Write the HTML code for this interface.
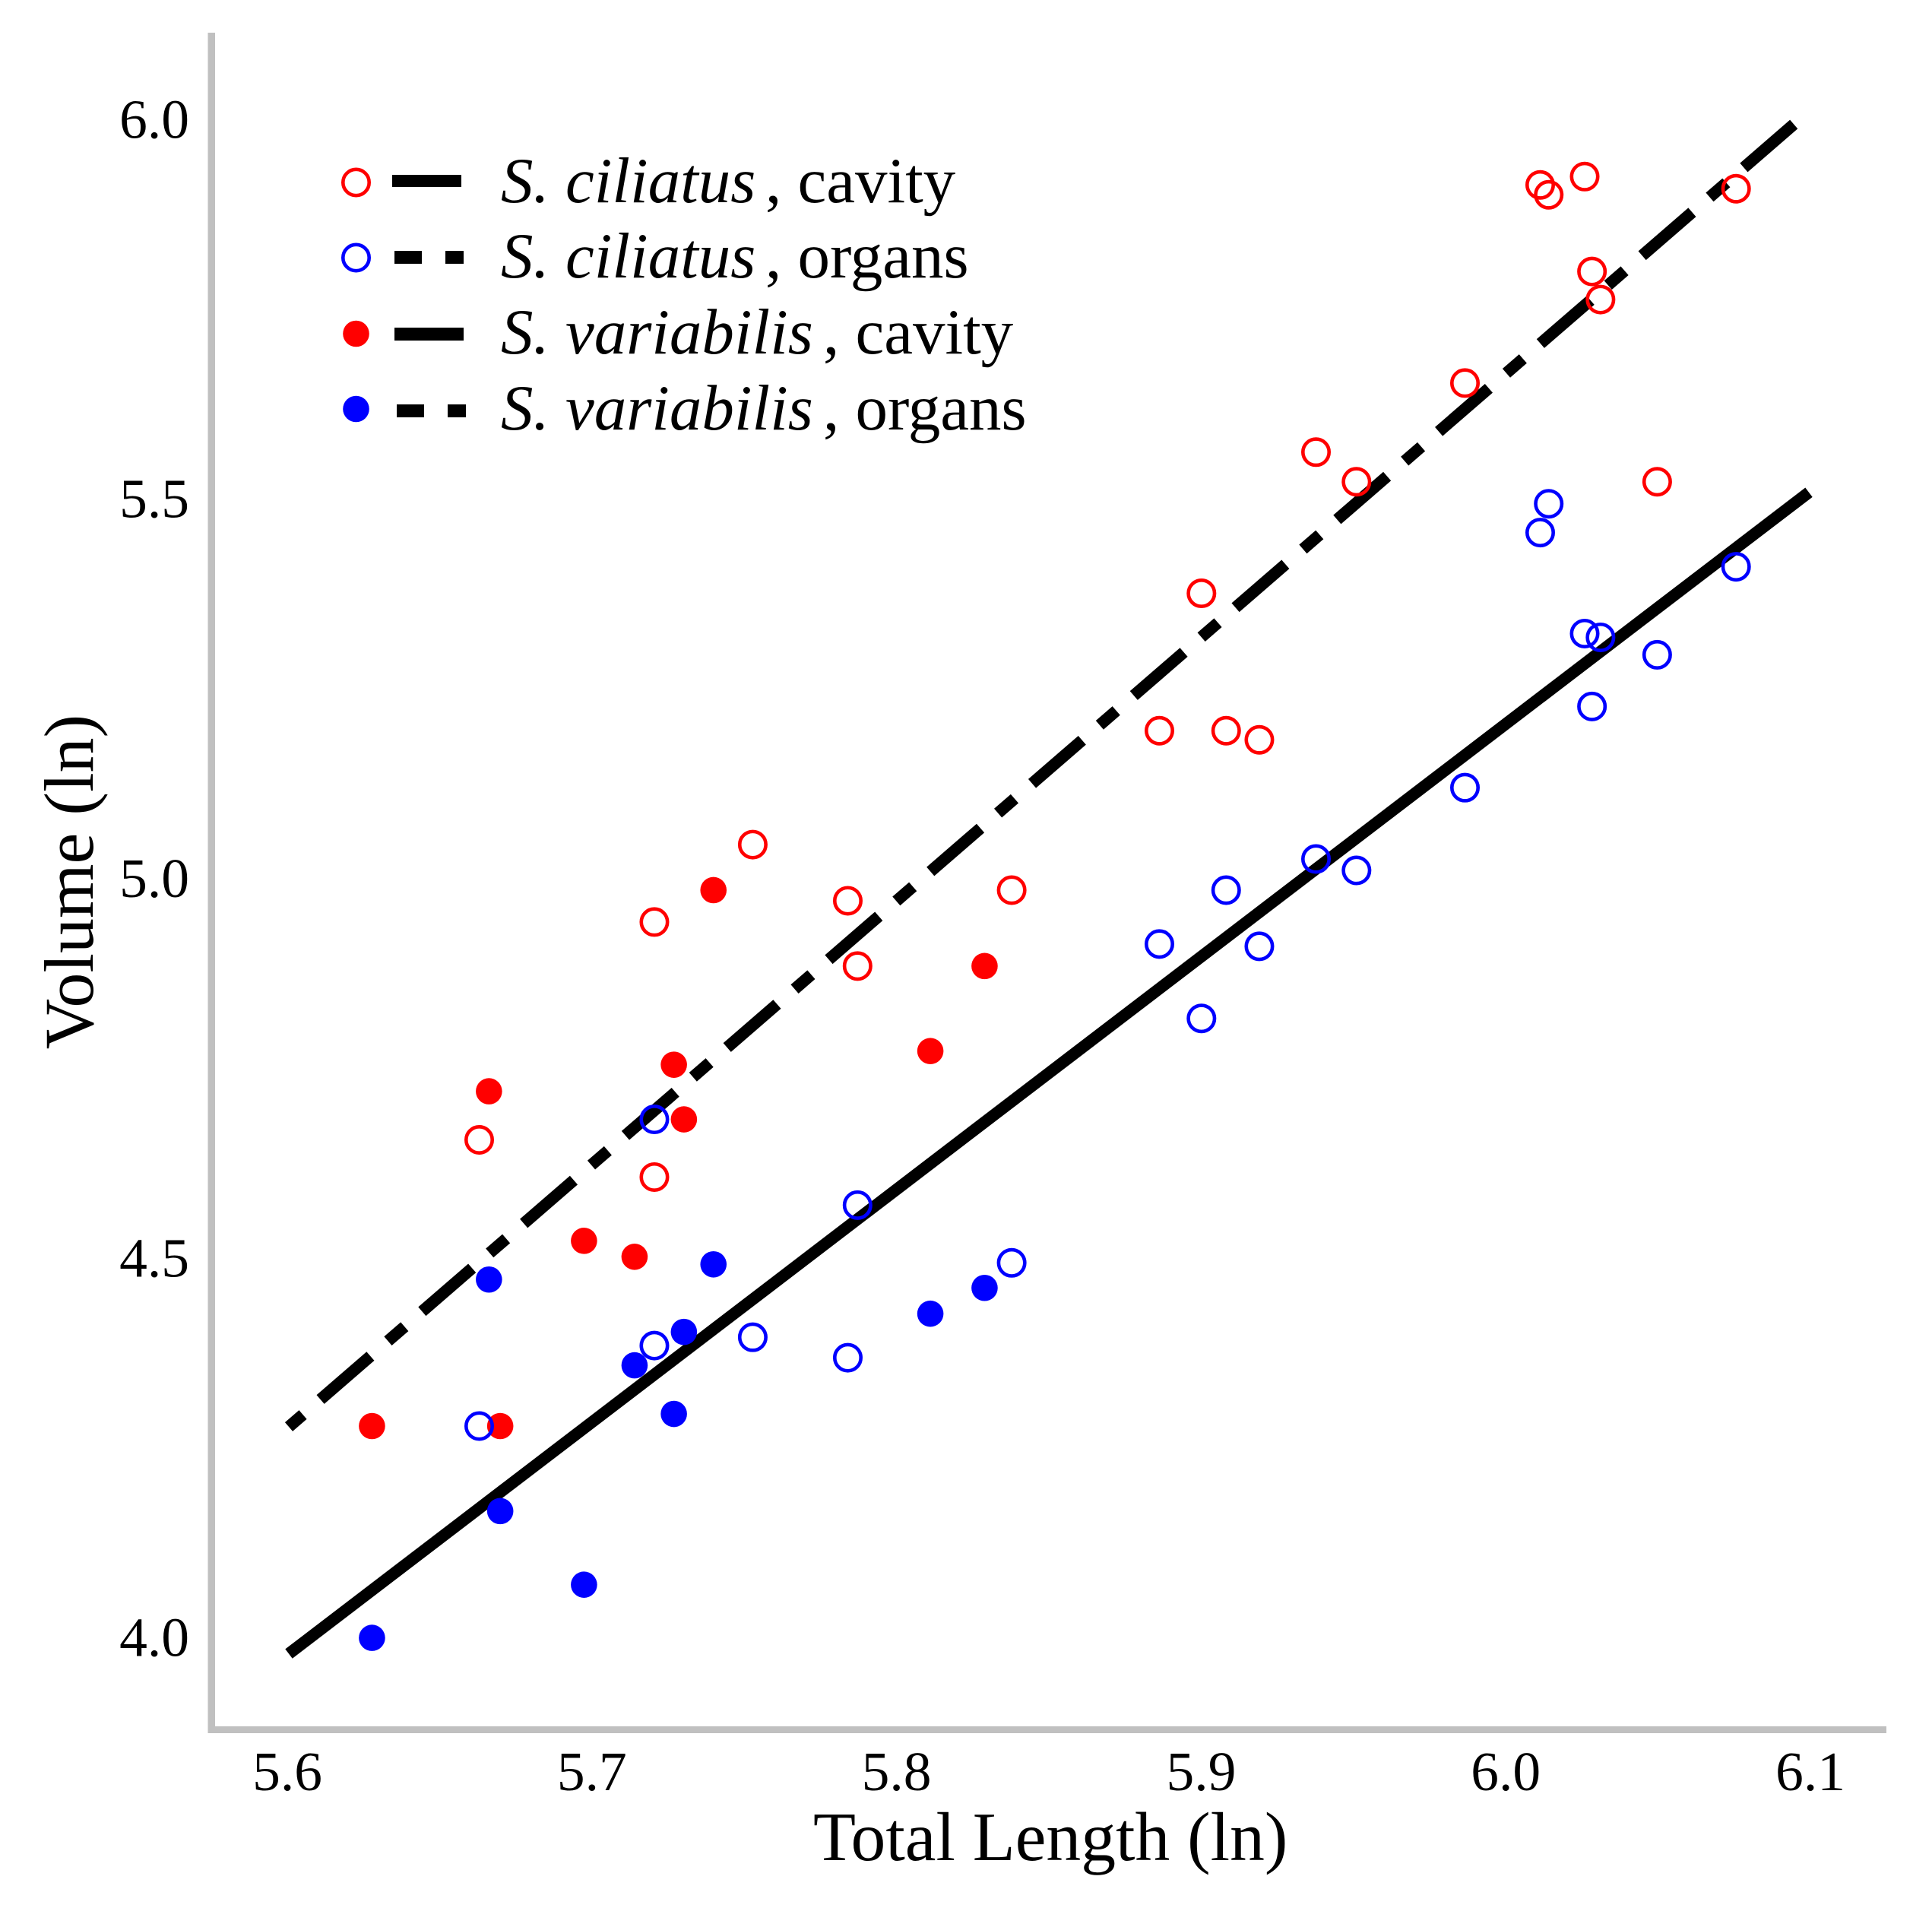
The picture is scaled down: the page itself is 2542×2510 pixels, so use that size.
<!DOCTYPE html>
<html lang="en">
<head>
<meta charset="utf-8">
<title>Volume vs Total Length</title>
<style>
html,body{margin:0;padding:0;background:#fff;}
svg{display:block;font-family:"Liberation Serif",serif;}
</style>
</head>
<body>
<svg id="chart" xmlns="http://www.w3.org/2000/svg" width="2542" height="2510" viewBox="0 0 2542 2510">
  <rect x="0" y="0" width="2542" height="2510" fill="#fff"/>
  <rect x="273.5" y="43" width="9.5" height="2237" fill="#c0c0c0"/>
  <rect x="274" y="2271" width="2208" height="9" fill="#c0c0c0"/>
  <g id="ticks"></g>
  <g id="lines"></g>
  <g id="points"></g>
  <text x="1070" y="2447" font-size="91.6" fill="#000">Total Length (ln)</text>
  <text transform="translate(122,1160) rotate(-90)" text-anchor="middle" font-size="92" fill="#000">Volume (ln)</text>
  <g>
    <g>
      <circle cx="468.5" cy="240" r="17.2" fill="none" stroke="#ff0000" stroke-width="4.6"/>
      <rect x="516" y="230" width="91" height="16" fill="#000"/>
      <text y="266" font-size="85"><tspan x="659" font-style="italic">S. ciliatus</tspan><tspan x="1007">, cavity</tspan></text>
    </g>
    <g>
      <circle cx="468.5" cy="339" r="17.2" fill="none" stroke="#0000ff" stroke-width="4.6"/>
      <rect x="519" y="330" width="36" height="17" fill="#000"/>
      <rect x="586" y="330" width="24" height="17" fill="#000"/>
      <text y="365" font-size="85"><tspan x="659" font-style="italic">S. ciliatus</tspan><tspan x="1007">, organs</tspan></text>
    </g>
    <g>
      <circle cx="468.5" cy="439" r="17.3" fill="#ff0000"/>
      <rect x="519" y="431" width="91" height="17" fill="#000"/>
      <text y="465" font-size="85"><tspan x="659" font-style="italic">S. variabilis</tspan><tspan x="1083">, cavity</tspan></text>
    </g>
    <g>
      <circle cx="468.5" cy="538" r="17.3" fill="#0000ff"/>
      <rect x="522" y="532" width="36" height="17" fill="#000"/>
      <rect x="589" y="532" width="24" height="17" fill="#000"/>
      <text y="565" font-size="85"><tspan x="659" font-style="italic">S. variabilis</tspan><tspan x="1083">, organs</tspan></text>
    </g>
  </g>
</svg>
<script>
var xTicks = [5.6, 5.7, 5.8, 5.9, 6.0, 6.1];
var yTicks = [4.0, 4.5, 5.0, 5.5, 6.0];

var ciliatusLength = [5.6635, 5.721, 5.721, 5.7533, 5.7845, 5.7877, 5.8383, 5.8868, 5.9006, 5.9087, 5.9196, 5.9382, 5.9515, 5.9871, 6.0118, 6.0146, 6.0264, 6.0288, 6.0316, 6.0502, 6.0761];
var ciliatusCavity = [4.656, 4.943, 4.607, 5.045, 4.971, 4.885, 4.985, 5.195, 5.376, 5.195, 5.183, 5.562, 5.523, 5.653, 5.914, 5.901, 5.925, 5.800, 5.763, 5.523, 5.909];
var ciliatusOrgans = [4.279, 4.683, 4.385, 4.396, 4.369, 4.570, 4.494, 4.914, 4.816, 4.985, 4.911, 5.026, 5.011, 5.120, 5.456, 5.494, 5.323, 5.227, 5.318, 5.295, 5.411];

var variabilisLength = [5.6283, 5.6667, 5.6704, 5.6979, 5.7145, 5.7274, 5.7307, 5.7404, 5.8116, 5.8294];
var variabilisCavity = [4.279, 4.720, 4.279, 4.523, 4.502, 4.755, 4.683, 4.985, 4.773, 4.885];
var variabilisOrgans = [4.000, 4.472, 4.167, 4.070, 4.359, 4.295, 4.403, 4.492, 4.427, 4.461];

var fitLength = [5.601, 6.1];
var fitCavity = [4.278, 6.011];
var fitOrgans = [3.979, 5.509];

var SVGNS = 'http://www.w3.org/2000/svg';
function xPos(v) { return 376 + (v - 5.6) * 4008; }
function yPos(v) { return 2154.6 - (v - 4) * 998.6; }

var ticksG = document.getElementById('ticks');
var linesG = document.getElementById('lines');
var pointsG = document.getElementById('points');

xTicks.forEach(function (t) {
  var el = document.createElementNS(SVGNS, 'text');
  
  
  el.setAttribute('x', xPos(t) + 2);
  el.setAttribute('y', 2355);
  el.setAttribute('text-anchor', 'middle');
  el.setAttribute('font-size', '73.5');
  el.textContent = t.toFixed(1);
  ticksG.appendChild(el);
});
yTicks.forEach(function (t) {
  var el = document.createElementNS(SVGNS, 'text');
  
  
  el.setAttribute('x', 249);
  el.setAttribute('y', yPos(t) + 24);
  el.setAttribute('text-anchor', 'end');
  el.setAttribute('font-size', '73.5');
  el.textContent = t.toFixed(1);
  ticksG.appendChild(el);
});

var cavityLine = document.createElementNS(SVGNS, 'line');


cavityLine.setAttribute('x1', xPos(fitLength[0]));
cavityLine.setAttribute('y1', yPos(fitCavity[0]));
cavityLine.setAttribute('x2', xPos(fitLength[1]));
cavityLine.setAttribute('y2', yPos(fitCavity[1]));
cavityLine.setAttribute('stroke', '#000');
cavityLine.setAttribute('stroke-width', '15.5');
cavityLine.setAttribute('stroke-dasharray', '87 30.5 28.9 30.5');
cavityLine.setAttribute('stroke-dashoffset', '121.9');
linesG.appendChild(cavityLine);

var organsLine = document.createElementNS(SVGNS, 'line');


organsLine.setAttribute('x1', xPos(fitLength[0]));
organsLine.setAttribute('y1', yPos(fitOrgans[0]));
organsLine.setAttribute('x2', xPos(fitLength[1]));
organsLine.setAttribute('y2', yPos(fitOrgans[1]));
organsLine.setAttribute('stroke', '#000');
organsLine.setAttribute('stroke-width', '15.5');
linesG.appendChild(organsLine);

function drawSeries(xs, ys, color, open, name) {
  xs.forEach(function (x, i) {
    var c = document.createElementNS(SVGNS, 'circle');
    
    
    c.setAttribute('cx', xPos(x));
    c.setAttribute('cy', yPos(ys[i]));
    if (open) {
      c.setAttribute('r', 17.2);
      c.setAttribute('fill', 'none');
      c.setAttribute('stroke', color);
      c.setAttribute('stroke-width', 4.6);
    } else {
      c.setAttribute('r', 17.3);
      c.setAttribute('fill', color);
    }
    pointsG.appendChild(c);
  });
}
drawSeries(variabilisLength, variabilisCavity, '#ff0000', false, 'point-variabilis-cavity');
drawSeries(variabilisLength, variabilisOrgans, '#0000ff', false, 'point-variabilis-organs');
drawSeries(ciliatusLength, ciliatusCavity, '#ff0000', true, 'point-ciliatus-cavity');
drawSeries(ciliatusLength, ciliatusOrgans, '#0000ff', true, 'point-ciliatus-organs');
</script>
</body>
</html>
